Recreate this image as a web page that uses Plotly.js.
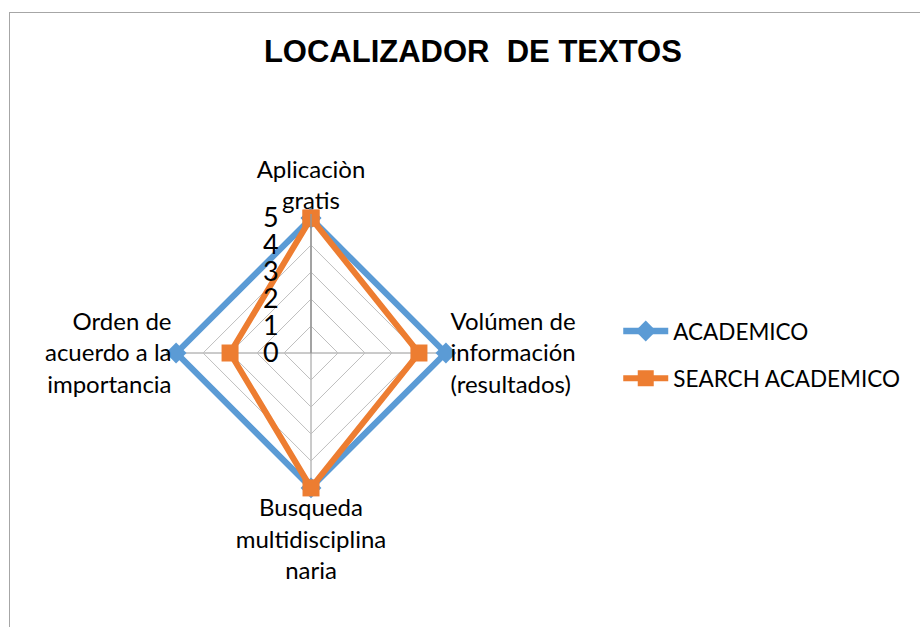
<!DOCTYPE html>
<html>
<head>
<meta charset="utf-8">
<script src="https://cdn.plot.ly/plotly-3.0.1.min.js"></script>
<style>
  body { margin: 0; background: #fff; }
  #chart { width: 920px; height: 627px; position: relative; }
  #frame { position: absolute; left: 9px; top: 12px; width: 940px; height: 640px;
           border: 1.5px solid #a6a6a6; pointer-events: none; }
</style>
</head>
<body>
<div id="chart"></div>
<div id="frame"></div>
<script>
// Criteria (angular categories) and scores per application
const criteria = [
    'Aplicaciòn<br>gratis',
    'Volúmen de<br>información<br>(resultados)',
    'Busqueda<br>multidisciplina<br>naria',
    'Orden de<br>acuerdo a la<br>importancia'
];
const academico = [5, 5, 5, 5];
const searchAcademico = [5, 4, 5, 3];
const radialTicks = [0, 1, 2, 3, 4, 5];

// close the polygon
const closed = (arr) => arr.concat(arr[0]);
// transparent padding keeps the radial numbers away from the axis line
const padLabel = (v) => v + '<span style="color:rgba(0,0,0,0);font-size:19px">00</span>';

const baseFont = { family: 'Lato, "Open Sans", sans-serif', size: 24, color: '#000' };

const traceAcademico = {
    type: 'scatterpolar',
    mode: 'lines+markers',
    name: 'ACADEMICO',
    legendgroup: 'a',
    cliponaxis: false,
    r: closed(academico),
    theta: closed(criteria),
    line: { color: '#5b9bd5', width: 6.5 },
    marker: { symbol: 'diamond', size: 16, color: '#5b9bd5' }
};

const traceSearch = {
    type: 'scatterpolar',
    mode: 'lines+markers',
    name: 'SEARCH ACADEMICO',
    legendgroup: 'b',
    cliponaxis: false,
    r: closed(searchAcademico),
    theta: closed(criteria),
    line: { color: '#ed7d31', width: 6 },
    marker: { symbol: 'square', size: 17, color: '#ed7d31' }
};

const layout = {
    width: 920,
    height: 627,
    margin: { l: 0, r: 0, t: 0, b: 0 },
    font: baseFont,
    title: {
        text: '<b>LOCALIZADOR  DE TEXTOS</b>',
        font: { family: '"Liberation Sans", Arial, sans-serif', size: 31, color: '#000' },
        x: 0.514,
        xanchor: 'center',
        y: 0.918,
        yanchor: 'middle'
    },
    polar: {
        // range goes a little past 5 so the thick outer lines are not clipped
        domain: { x: [0.187, 0.4891], y: [0.2153, 0.6587] },
        bgcolor: 'rgba(0,0,0,0)',
        gridshape: 'linear',
        radialaxis: {
            range: [0, 5.15],
            tickvals: radialTicks,
            ticktext: radialTicks.map(padLabel),
            angle: 90,
            side: 'counterclockwise',
            tickangle: 90,
            showline: true,
            linecolor: '#969696',
            linewidth: 1.5,
            gridcolor: '#bfbfbf',
            gridwidth: 1,
            ticks: '',
            tickfont: { family: 'Lato, "Open Sans", sans-serif', size: 27, color: '#000' }
        },
        angularaxis: {
            direction: 'clockwise',
            rotation: 90,
            showline: false,
            gridcolor: '#969696',
            gridwidth: 1.2,
            ticks: '',
            tickfont: baseFont
        }
    },
    legend: {
        x: 0.672,
        y: 0.434,
        xanchor: 'left',
        yanchor: 'middle',
        itemwidth: 45,
        font: { family: 'Lato, "Open Sans", sans-serif', size: 22.5, color: '#000' },
        tracegroupgap: 15
    }
};

Plotly.newPlot('chart', [traceAcademico, traceSearch], layout, { displayModeBar: false });
</script>
</body>
</html>
